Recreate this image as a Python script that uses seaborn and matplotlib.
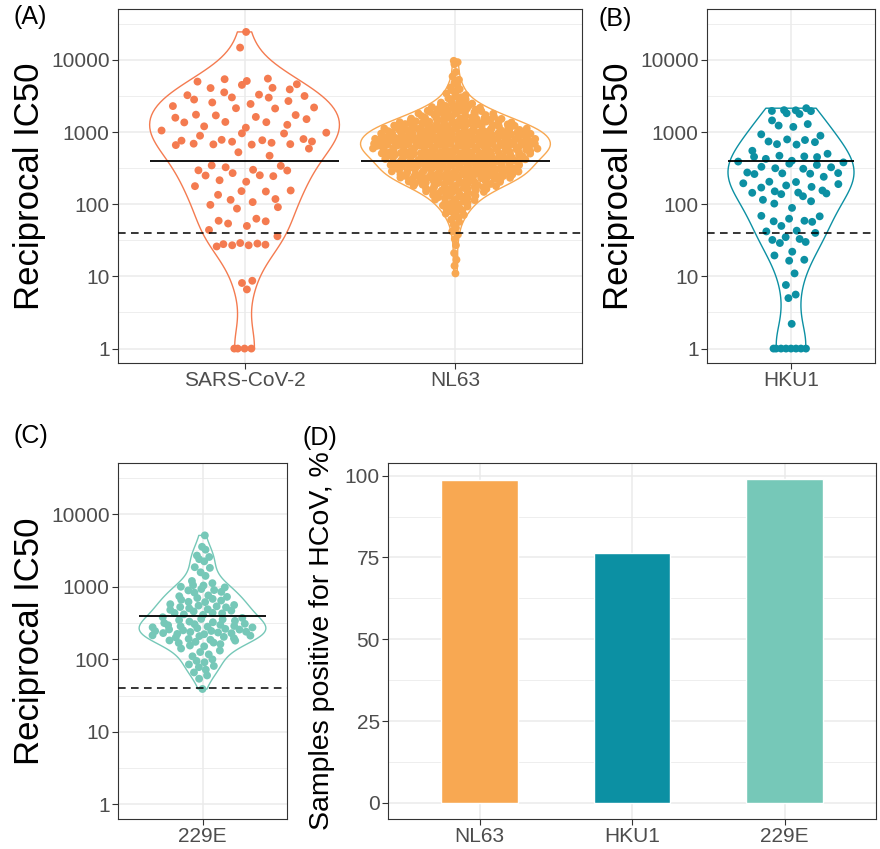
import numpy as np
import pandas as pd
import matplotlib
matplotlib.use("Agg")
import matplotlib.pyplot as plt
import matplotlib.ticker as mticker
import seaborn as sns

# ------------------------------------------------------------
# Data (reciprocal IC50)
# ------------------------------------------------------------
sars_cov2 = [
    24400, 14800, 5000, 5100, 5400, 5500, 4600, 4500, 4100, 4070, 3900, 3550,
    3300, 3240, 3160, 3020, 3000, 2820, 2690, 2570, 2450, 2290, 2190, 2140,
    2120, 1740, 1720, 1700, 1620, 1580, 1510, 1380, 1370, 1360, 1260, 1200,
    1150, 1050, 980, 960, 955, 890, 800, 780, 770, 760, 740, 735, 710, 690,
    680, 675, 670, 660, 590, 525, 470, 345, 340, 325, 300, 295, 293, 270,
    250, 252, 245, 215, 205, 178, 155, 152, 150, 135, 118, 115, 107, 98, 91,
    87, 63, 59, 58, 54, 50, 44, 36, 29, 28, 28.5, 27.5, 27, 27, 26, 8.7,
    8.1, 6.6, 1, 1, 1, 1,
]

nl63 = [
    11, 14, 17, 21, 27, 33, 38, 42, 47, 52, 57, 61, 65, 68, 71, 74, 77,
    80, 82, 85, 88, 90, 93, 96, 99,
    101, 104, 106, 109, 111, 114, 116, 118, 121, 123, 125,
    127, 130, 131, 134, 136, 137, 140, 141, 144, 147, 148, 151, 152, 155, 157,
    159, 161, 162, 163, 166, 168, 169, 170, 173, 175, 176, 178, 180, 181, 183,
    184, 187, 189, 190, 191, 194, 195, 197, 198, 199,
    201, 203, 204, 206, 208, 210, 211, 213, 216, 217, 219, 221, 223, 224, 225,
    227, 229, 230, 232, 234, 236, 237, 239, 240, 242, 243, 245, 246, 248, 249,
    250,
    252, 254, 256, 257, 258, 259, 262, 264, 265, 266, 268, 270, 272, 273, 274,
    277, 279, 280, 281, 283, 285, 288, 289, 290, 292, 295, 297, 298, 300, 302,
    305, 306, 308, 311, 313, 314,
    317, 319, 321, 322, 325, 327, 330, 332, 333, 335, 337, 340, 343, 344, 346,
    348, 350, 353, 354, 356, 358, 361, 363, 365, 366, 369, 372, 375, 376, 377,
    380, 383, 385, 386, 389, 391, 394, 395, 397,
    399, 401, 403, 406, 409, 410, 415, 418, 419, 424, 426, 428, 430, 433, 437,
    440, 442, 444, 446, 449, 452, 455, 457, 459, 461, 463, 467, 470, 472, 474,
    476, 479, 481, 485, 488, 490, 492, 494, 497, 500,
    503, 506, 508, 509, 512, 515, 517, 519, 522, 526, 529, 531, 533, 535, 539,
    542, 544, 546, 549, 552, 556, 558, 560, 563, 567, 570, 571, 574, 578, 581,
    585, 586, 589, 593, 597, 599, 601, 604, 608, 612, 614, 617, 622, 627, 629,
    633, 635, 637, 641, 643, 645, 649, 652, 654, 658, 660, 662, 666, 669, 671,
    675, 677, 679, 684, 686, 688, 693, 695, 697, 702, 704, 706, 711, 713, 716,
    720, 725, 727, 730, 735, 740, 742, 744, 749, 754, 757, 759, 764, 769, 774,
    776, 779, 784, 788, 792,
    797, 803, 806, 809, 814, 820, 823, 826, 831, 837, 840, 843, 849, 855, 858,
    861, 866, 872, 875, 878, 884, 890, 893, 896, 903, 909, 912, 915, 921, 928,
    931, 934, 940, 947, 953, 957, 960, 966, 973, 979, 982, 985, 990, 994, 998,
    1005, 1009, 1012, 1016, 1020, 1028, 1036, 1041, 1045, 1052, 1061, 1066,
    1070, 1074, 1078, 1086, 1095, 1100, 1104, 1112, 1117, 1120, 1130, 1135,
    1139, 1147, 1156, 1165, 1170, 1174, 1183, 1188, 1192, 1202, 1206, 1211,
    1220, 1230, 1240, 1244, 1248, 1255,
    1265, 1272, 1278, 1290, 1303, 1310, 1317, 1330, 1342, 1349, 1356, 1370,
    1384, 1391, 1398, 1410, 1424, 1431, 1438, 1452, 1466, 1473, 1480, 1494,
    1508, 1515, 1522, 1536, 1550, 1558, 1565, 1580,
    1600, 1615, 1630, 1660, 1675, 1690, 1720, 1735, 1750, 1780, 1795, 1810,
    1840, 1855, 1870, 1900, 1915, 1930, 1955, 1975, 1990,
    2010, 2035, 2060, 2115, 2145, 2170, 2220, 2270, 2300, 2330, 2380, 2430,
    2455, 2480,
    2560, 2650, 2740, 2830, 2930, 3040, 3140,
    3250, 3420, 3600, 3800, 3930,
    4150, 4500, 4850, 5300, 5900, 6800, 8700, 9300, 9700,
]

hku1 = [
    2010, 1780, 1950, 2140, 1960, 1820, 2000, 1450, 1290, 1230, 1180, 930,
    890, 790, 775, 740, 725, 680, 670, 550, 500, 470, 455, 460, 450, 425,
    400, 380, 390, 365, 350, 330, 325, 315, 310, 275, 270, 268, 265, 262,
    240, 205, 203, 195, 190, 182, 174, 170, 155, 151, 145, 144, 141, 138,
    129, 115, 110, 102, 89, 69, 68, 63, 59, 58, 57, 50, 43, 42, 40, 35, 33,
    32, 30, 29, 22, 19.5, 17, 16.5, 11, 7.6, 5.6, 5, 2.2,
    1, 1, 1, 1, 1, 1, 1, 1,
]

hcov_229e = [
    5100, 3550, 3240, 2690, 2570, 2400, 2240, 1860, 1820, 1580, 1410, 1200,
    1120, 1050, 1040, 1000, 980, 930, 890, 900, 850, 830, 760, 740, 725, 700,
    680, 660, 645, 620, 615, 575, 560, 550, 537, 525, 520, 505, 490, 480, 468,
    457, 437, 435, 430, 417, 410, 380, 372, 360, 355, 347, 339, 331, 324, 316,
    309, 305, 298, 295, 288, 285, 282, 275, 276, 269, 263, 258, 257, 251, 245,
    246, 240, 238, 234, 229, 230, 224, 222, 214, 212, 209, 204, 200, 195, 191,
    186, 182, 181, 174, 170, 168, 162, 155, 151, 141, 132, 126, 117, 110, 100,
    95, 91, 85, 81, 78, 72, 66, 60, 54, 39,
]

bar_viruses = ["NL63", "HKU1", "229E"]
bar_positive = [98.6, 76.4, 98.9]

median_titer = 400
cutoff_titer = 40

colors = {
    "SARS-CoV-2": "#F47B50",
    "NL63": "#F8A852",
    "HKU1": "#0C90A3",
    "229E": "#76C8B8",
}

sns.set_theme(style="white")
plt.rcParams["font.family"] = ["Liberation Sans", "DejaVu Sans"]

W, H = 880, 849
fig = plt.figure(figsize=(W / 100, H / 100), dpi=100)


def box(left, right, top, bottom):
    return [left / W, 1 - bottom / H, (right - left) / W, (bottom - top) / H]


def vdc(n):
    # van der Corput sequence, base 2
    out = []
    for i in range(1, n + 1):
        v, denom, k = 0.0, 1.0, i
        while k:
            denom *= 2
            k, r = divmod(k, 2)
            v += r / denom
        out.append(v)
    return np.array(out)


def quasi_offsets(values, width=0.4, adjust=0.6):
    logv = np.log10(np.asarray(values, dtype=float))
    n = len(logv)
    sd = logv.std(ddof=1)
    q75, q25 = np.percentile(logv, [75, 25])
    bw = 0.9 * min(sd, (q75 - q25) / 1.34) * n ** -0.2 * adjust
    dens = np.exp(-0.5 * ((logv[:, None] - logv[None, :]) / bw) ** 2).sum(axis=1)
    dens = dens / dens.max()
    order = np.argsort(logv, kind="stable")
    off = np.empty(n)
    off[order] = (vdc(n) - 0.5) * 2 * width * dens[order]
    return off


def style_axes(ax):
    for s in ax.spines.values():
        s.set_color("#333333")
        s.set_linewidth(0.8)
    ax.grid(True, which="major", color="#EBEBEB", lw=1.1)
    ax.grid(True, which="minor", axis="y", color="#EBEBEB", lw=0.6)
    ax.set_axisbelow(True)
    ax.tick_params(which="major", length=4, width=0.8, color="#333333",
                   labelsize=15, labelcolor="#4D4D4D", pad=2,
                   left=True, bottom=True)
    ax.tick_params(which="minor", length=0, left=False, bottom=False)
    ax.set_xlabel("")


def ic50_panel(ax, groups, axw):
    names = list(groups)
    df = pd.concat(
        [pd.DataFrame({"virus": k, "ic50": v, "pos": i + quasi_offsets(v)})
         for i, (k, v) in enumerate(groups.items())],
        ignore_index=True,
    )
    sns.violinplot(data=df, x="virus", y="ic50", hue="virus", order=names,
                   hue_order=names, palette=colors, fill=False, inner=None,
                   cut=0, density_norm="width", width=0.9, linewidth=1,
                   bw_adjust=0.9, log_scale=True, saturation=1, legend=False,
                   ax=ax)
    sns.scatterplot(data=df, x="pos", y="ic50", hue="virus", palette=colors,
                    s=32, linewidth=0, alpha=1, legend=False, ax=ax, zorder=3)
    for i in range(len(names)):
        ax.hlines(median_titer, i - 0.45, i + 0.45, color="black", lw=1.3,
                  zorder=4)
    ax.axhline(cutoff_titer, color="black", lw=1.1, ls=(0, (5, 3.5)), zorder=4)
    ax.set_yscale("log")
    ax.yaxis.set_major_locator(mticker.FixedLocator([1, 10, 100, 1000, 10000]))
    ax.yaxis.set_major_formatter(mticker.FuncFormatter(lambda v, p: f"{v:g}"))
    ax.yaxis.set_minor_locator(
        mticker.FixedLocator([10 ** (k + 0.5) for k in range(-1, 5)]))
    ax.set_ylim(10 ** -0.2, 10 ** 4.705)
    ax.set_xlim(-0.6, len(names) - 0.4)
    ax.set_xticks(range(len(names)))
    ax.set_xticklabels(names)
    style_axes(ax)
    ax.set_ylabel("Reciprocal IC50", fontsize=25, color="black")
    ax.yaxis.set_label_coords(-72 / axw, 0.5)


# (A) SARS-CoV-2 and NL63
axA = fig.add_axes(box(118, 582, 9, 363))
ic50_panel(axA, {"SARS-CoV-2": sars_cov2, "NL63": nl63}, 464)

# (B) HKU1
axB = fig.add_axes(box(707, 875, 9, 363))
ic50_panel(axB, {"HKU1": hku1}, 168)

# (C) 229E
axC = fig.add_axes(box(118, 287, 463, 819))
ic50_panel(axC, {"229E": hcov_229e}, 169)

# (D) seropositivity bars
axD = fig.add_axes(box(388, 876, 463, 819))
sns.barplot(x=bar_viruses, y=bar_positive, hue=bar_viruses, palette=colors,
            width=0.5, saturation=1, legend=False, ax=axD)
axD.set_ylim(-4.945, 103.85)
axD.set_xlim(-0.6, 2.6)
axD.yaxis.set_major_locator(mticker.FixedLocator([0, 25, 50, 75, 100]))
axD.yaxis.set_minor_locator(mticker.FixedLocator([12.5, 37.5, 62.5, 87.5]))
style_axes(axD)
axD.set_ylabel("Samples positive for HCoV, %", fontsize=20.5, color="black")
axD.yaxis.set_label_coords(-53 / 488, 0.5)

for label, x, y in [("(A)", 13, 17), ("(B)", 598, 19), ("(C)", 13, 436),
                    ("(D)", 302, 438)]:
    fig.text(x / W, 1 - y / H, label, fontsize=18, ha="left", va="center",
             color="black")

fig.savefig("out.png", dpi=100)
